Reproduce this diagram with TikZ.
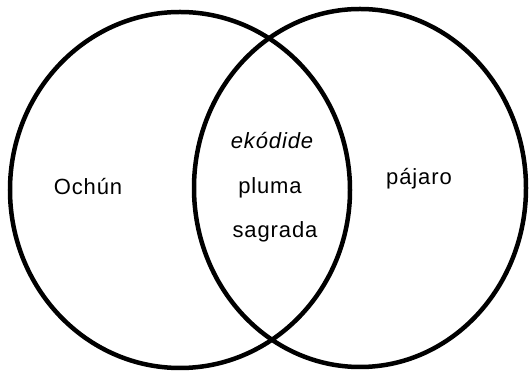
\documentclass[tikz,border=0pt]{standalone}
\usepackage{fontspec}
\setmainfont{Liberation Sans}
\usepackage{xcolor}
\usepackage{tikz}
\usetikzlibrary{positioning}

\begin{document}
\begin{tikzpicture}[x=1pt,y=1pt,
      set/.style={draw=black,line width=4.5pt},
      word/.style={anchor=base,inner sep=0pt,font=\fontsize{22}{26}\selectfont\addfontfeature{LetterSpace=4}}]
      \useasboundingbox (0,0) rectangle (530,374);
      \draw[set] (180,184) ellipse [x radius=170, y radius=178];
      \draw[set] (360,186) ellipse [x radius=166, y radius=179];
      \node[word] (ochun) at (88,179) {Ochún};
      \node[word,font=\fontsize{22}{26}\selectfont\itshape\addfontfeature{LetterSpace=4}] (ekodide) at (272,225) {ekódide};
      \node[word] (pluma) at (270,180) {pluma};
      \node[word] (sagrada) at (275,136) {sagrada};
      \node[word] (pajaro) at (419,189) {pájaro};
    \end{tikzpicture}
\end{document}
